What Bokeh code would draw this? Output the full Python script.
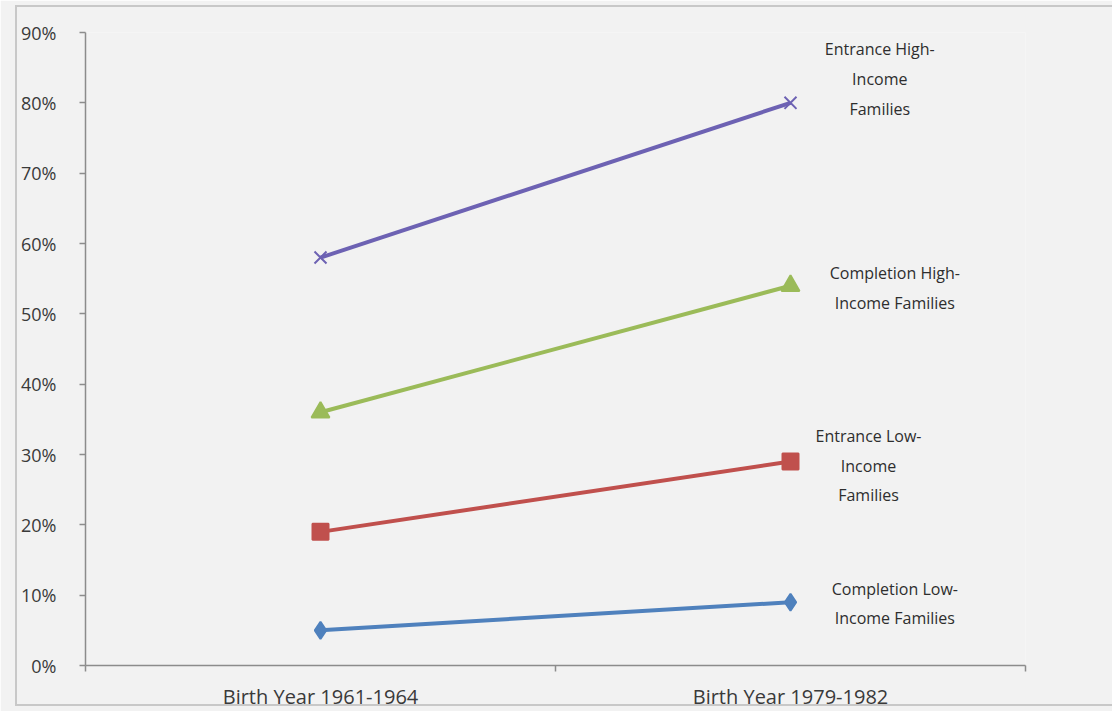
from bokeh.plotting import figure
from bokeh.models import FixedTicker, ColumnDataSource, Range1d, InlineStyleSheet
from bokeh.core.properties import value
from bokeh.embed import file_html
from bokeh.resources import INLINE

# ---- data ----
categories = ["Birth Year 1961-1964", "Birth Year 1979-1982"]
entrance_high = [58, 80]
completion_high = [36, 54]
entrance_low = [19, 29]
completion_low = [5, 9]
series_labels = [
    "Entrance High-\nIncome\nFamilies",
    "Completion High-\nIncome Families",
    "Entrance Low-\nIncome\nFamilies",
    "Completion Low-\nIncome Families",
]
y_ticks = [0, 10, 20, 30, 40, 50, 60, 70, 80, 90]
y_tick_labels = ["0%", "10%", "20%", "30%", "40%", "50%", "60%", "70%", "80%", "90%"]

# ---- figure ----
BG = "#f2f2f2"
FONT = "Open Sans"
border_css = InlineStyleSheet(css="""
:host { position: relative; }
:host::after {
  content: ""; position: absolute; left: 15px; top: 5px; right: -20px; bottom: 6px;
  border: 2px solid #c8c8c8; pointer-events: none;
}
""")
p = figure(width=1112, height=711, output_backend="svg", toolbar_location=None,
           x_range=Range1d(0, len(categories)), y_range=Range1d(0, 90),
           min_border_left=85, min_border_right=87, min_border_top=32, min_border_bottom=46,
           stylesheets=[border_css])
p.frame_width = 940
p.frame_height = 633
p.background_fill_color = BG
p.border_fill_color = BG
p.outline_line_color = None
p.grid.visible = False

xs = [i + 0.5 for i in range(len(categories))]

# axes
p.xaxis.ticker = FixedTicker(ticks=xs, minor_ticks=list(range(len(categories) + 1)))
p.xaxis.major_label_overrides = {x: c for x, c in zip(xs, categories)}
p.xaxis.major_tick_out = 0
p.xaxis.major_tick_in = 0
p.xaxis.minor_tick_out = 6
p.xaxis.minor_tick_in = 0
p.xaxis.minor_tick_line_color = "#8c8c8c"
p.xaxis.major_label_standoff = 11

p.yaxis.ticker = FixedTicker(ticks=y_ticks, minor_ticks=[])
p.yaxis.major_label_overrides = {t: l for t, l in zip(y_ticks, y_tick_labels)}
p.yaxis.major_tick_out = 6
p.yaxis.major_tick_in = 0
p.yaxis.major_label_standoff = 23

for ax in (p.xaxis, p.yaxis):
    ax.axis_line_color = "#8c8c8c"
    ax.axis_line_width = 1.5
    ax.major_tick_line_color = "#8c8c8c"
    ax.major_tick_line_width = 1.5
    ax.minor_tick_line_width = 1.5
    ax.major_label_text_font = FONT
    ax.major_label_text_color = "#3a3a3a"
p.yaxis.major_label_text_font_size = "18px"
p.xaxis.major_label_text_font_size = "20px"

# series
series = [
    (entrance_high, "#6d62b3", "x"),
    (completion_high, "#9bbb59", "triangle"),
    (entrance_low, "#c0504d", "square"),
    (completion_low, "#4f81bd", "diamond"),
]
sizes = {"x": 17, "triangle": 18, "square": 16, "diamond": 17}
for vals, color, marker in series:
    src = ColumnDataSource(dict(x=xs, y=vals))
    p.line("x", "y", source=src, line_color=color, line_width=4)
    p.scatter("x", "y", source=src, marker=marker, size=sizes[marker],
              fill_color=color, line_color=color, line_width=2)

# series labels (positions are layout only)
label_x = [1.69, 1.722, 1.666, 1.722]
label_y = [83.4, 53.7, 28.4, 8.8]
p.text(x=label_x, y=label_y, text=series_labels, text_align="center",
       text_baseline="middle", text_font=value(FONT), text_font_size="16px",
       text_color="#2e2e2e", text_line_height=1.35)

open("out.html", "w").write(file_html(p, INLINE))
